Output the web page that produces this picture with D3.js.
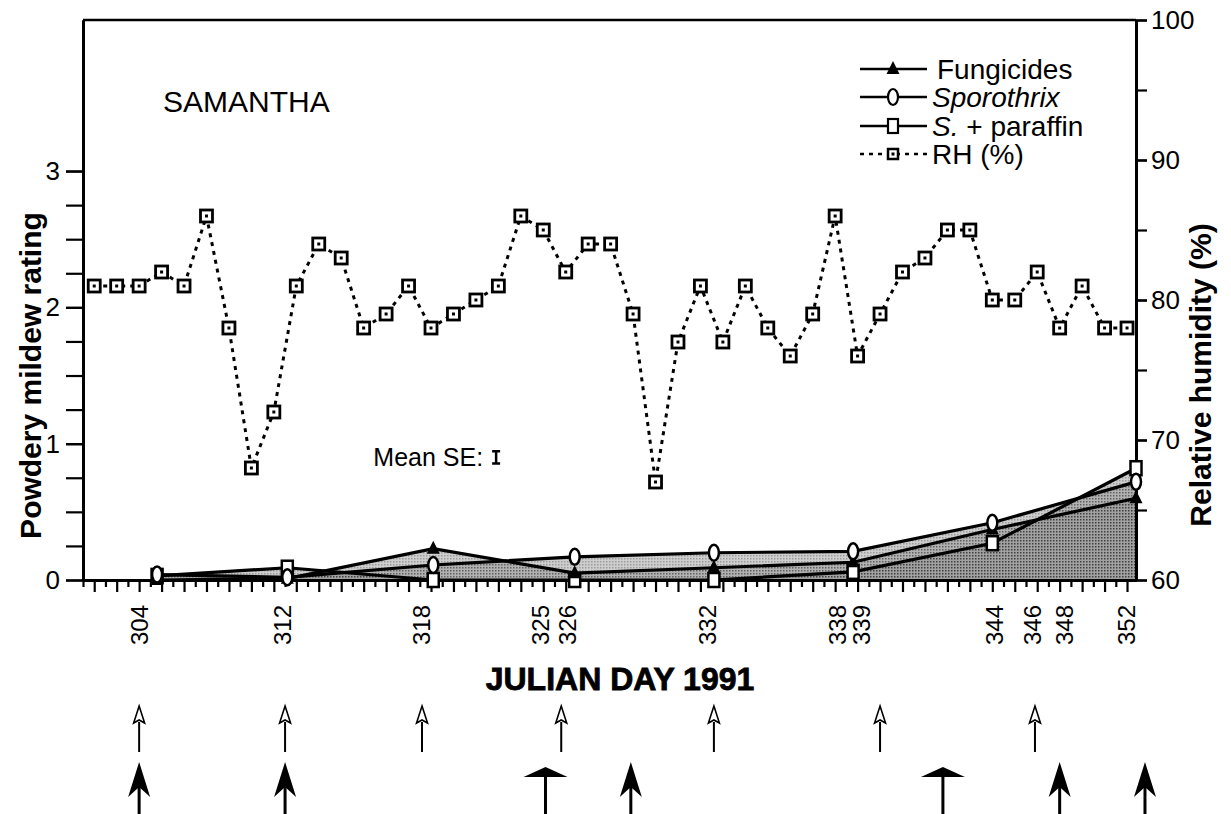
<!DOCTYPE html>
<html>
<head>
<meta charset="utf-8">
<script src="https://cdn.jsdelivr.net/npm/d3@7"></script>
<style>
  body { margin: 0; background: #fff; }
  svg { display: block; font-family: "Liberation Sans", Arial, Helvetica, sans-serif; }
</style>
</head>
<body>
<svg width="1231" height="814"></svg>
<script>
// DATA
// rating samples, x positions read off the day axis of the picture
const sampleDays = [308.8, 314.6, 321.1, 327.4, 333.6, 339.8, 346.0, 352.4];
const fungicides = [0.0, 0.01, 0.23, 0.05, 0.09, 0.13, 0.37, 0.6];
const sporothrix = [0.04, 0.02, 0.11, 0.17, 0.2, 0.21, 0.42, 0.72];
const paraffin = [0.03, 0.09, 0.0, 0.0, 0.0, 0.06, 0.27, 0.82];

// daily relative humidity
const rhDays = d3.range(306, 353);
const rhValues = [81, 81, 81, 82, 81, 86, 78, 68, 72, 81, 84, 83, 78, 79, 81, 78, 79, 80, 81, 86,
  85, 82, 84, 84, 79, 67, 77, 81, 77, 81, 78, 76, 79, 86, 76, 79, 82, 83, 85, 85,
  80, 80, 82, 78, 81, 78, 78];

// tick labels under the axis and where they sit
const dayLabels = ["304", "312", "318", "325", "326", "332", "338", "339", "344", "346", "348", "352"];
const dayLabelPos = [308.0, 314.4, 320.6, 325.9, 327.1, 333.3, 339.1, 340.2, 346.1, 347.8, 349.2, 352.0];

// application arrows below the chart
const openArrowDays = [308.0, 314.5, 320.6, 326.8, 333.6, 341.0, 347.9];
const solidArrowDays = [308.0, 314.5, 329.9, 349.0, 352.8];
const flatArrowDays = [326.1, 343.8];

const meanSE = 0.09;

// CONSTANTS
const svg = d3.select("svg");
const margin = { top: 20, left: 83, right: 95, bottom: 234 };
const width = +svg.attr("width");
const height = +svg.attr("height");
const plotBottom = height - margin.bottom;
const plotRight = width - margin.right;
const font = 26;

// SCALES
const x = d3.scaleLinear().domain([305.5, 352.4]).range([margin.left, plotRight]);
const yL = d3.scaleLinear().domain([0, 4.108]).range([plotBottom, margin.top]);
const yR = d3.scaleLinear().domain([60, 100]).range([plotBottom, margin.top]);

const series = [
  { name: "paraffin", values: paraffin },
  { name: "fungicides", values: fungicides },
  { name: "sporothrix", values: sporothrix }
];

const g = svg.append("g");

// stippled look: fine dot pattern, layered areas get darker
const pattern = svg.append("defs")
  .append("pattern")
  .attr("id", "stipple")
  .attr("width", 3).attr("height", 3)
  .attr("patternUnits", "userSpaceOnUse");
pattern.append("rect").attr("width", 3).attr("height", 3).attr("fill", "#8a8a8a");
pattern.append("rect").attr("width", 1.5).attr("height", 1.5).attr("fill", "#111");

const area = d3.area()
  .x((d, i) => x(sampleDays[i]))
  .y0(yL(0))
  .y1(d => yL(d));

g.selectAll(".area")
  .data(series)
  .enter()
  .append("path")
  .attr("class", "area")
  .attr("d", d => area(d.values))
  .attr("fill", "url(#stipple)")
  .attr("fill-opacity", 0.42);

const line = d3.line()
  .x((d, i) => x(sampleDays[i]))
  .y(d => yL(d));

g.selectAll(".rating")
  .data(series)
  .enter()
  .append("path")
  .attr("class", "rating")
  .attr("d", d => line(d.values))
  .attr("fill", "none")
  .attr("stroke", "#000")
  .attr("stroke-width", 3.2);

// AXES
function styleAxis(sel, w) {
  sel.select(".domain").attr("stroke-width", w);
  sel.selectAll(".tick line").attr("stroke-width", 2.2);
  sel.selectAll(".tick text")
    .attr("font-size", font)
    .attr("font-family", "Liberation Sans, Arial, sans-serif")
    .attr("fill", "#000");
}

g.append("g")
  .attr("transform", `translate(0,${plotBottom})`)
  .call(d3.axisBottom(x).tickValues(d3.range(305.5, 352.5, 1)).tickSize(7).tickSizeOuter(0).tickFormat(""))
  .call(s => styleAxis(s, 3));
g.append("g")
  .attr("transform", `translate(0,${plotBottom})`)
  .call(d3.axisBottom(x).tickValues(d3.range(306, 353, 1)).tickSize(12).tickSizeOuter(0).tickFormat(""))
  .call(s => styleAxis(s, 3));

g.append("g")
  .attr("transform", `translate(${margin.left},0)`)
  .call(d3.axisLeft(yL).tickValues(d3.range(0, 3.01, 0.25)).tickSize(17).tickSizeOuter(0).tickFormat(""))
  .call(s => styleAxis(s, 3));
g.append("g")
  .attr("transform", `translate(${margin.left},0)`)
  .call(d3.axisLeft(yL).tickValues([0, 1, 2, 3]).tickSize(17).tickPadding(6).tickSizeOuter(0).tickFormat(d3.format("d")))
  .call(s => styleAxis(s, 3));

g.append("g")
  .attr("transform", `translate(${plotRight},0)`)
  .call(d3.axisRight(yR).tickValues(d3.range(60, 101, 5)).tickSize(11).tickSizeOuter(0).tickFormat(""))
  .call(s => styleAxis(s, 3));
g.append("g")
  .attr("transform", `translate(${plotRight},0)`)
  .call(d3.axisRight(yR).tickValues(d3.range(60, 101, 10)).tickSize(11).tickPadding(4).tickSizeOuter(0))
  .call(s => styleAxis(s, 3));

// top frame line
g.append("line")
  .attr("x1", margin.left).attr("x2", plotRight)
  .attr("y1", margin.top).attr("y2", margin.top)
  .attr("stroke", "#000").attr("stroke-width", 2.5);

// rotated day labels
g.selectAll(".daylabel")
  .data(dayLabels)
  .enter()
  .append("text")
  .attr("class", "daylabel")
  .attr("transform", (d, i) => `translate(${x(dayLabelPos[i])},${plotBottom + 25}) rotate(-90)`)
  .attr("text-anchor", "end")
  .attr("dy", "0.35em")
  .attr("font-size", 24)
  .text(d => d);

// RH dotted line + markers
const rhLine = d3.line()
  .x((d, i) => x(rhDays[i]))
  .y(d => yR(d));

g.append("path")
  .attr("d", rhLine(rhValues))
  .attr("fill", "none")
  .attr("stroke", "#000")
  .attr("stroke-width", 3)
  .attr("stroke-dasharray", "4,5");

const rhPts = g.selectAll(".rh")
  .data(rhValues)
  .enter()
  .append("g")
  .attr("class", "rh")
  .attr("transform", (d, i) => `translate(${x(rhDays[i])},${yR(d)})`);
rhPts.append("rect")
  .attr("x", -6).attr("y", -6).attr("width", 12).attr("height", 12)
  .attr("fill", "#fff").attr("stroke", "#000").attr("stroke-width", 2.8);
rhPts.append("rect")
  .attr("x", -1.5).attr("y", -1.5).attr("width", 3).attr("height", 3)
  .attr("fill", "#000");

// markers for the ratings
const triangle = "M0,-8 L6.5,5 L-6.5,5 Z";

g.selectAll(".sq")
  .data(paraffin)
  .enter()
  .append("rect")
  .attr("class", "sq")
  .attr("x", (d, i) => x(sampleDays[i]) - 5.5)
  .attr("y", d => yL(d) - 7)
  .attr("width", 11).attr("height", 14)
  .attr("fill", "#fff").attr("stroke", "#000").attr("stroke-width", 2.5);

g.selectAll(".tri")
  .data(fungicides)
  .enter()
  .append("path")
  .attr("class", "tri")
  .attr("d", triangle)
  .attr("transform", (d, i) => `translate(${x(sampleDays[i])},${yL(d)})`)
  .attr("fill", "#000");

g.selectAll(".circ")
  .data(sporothrix)
  .enter()
  .append("ellipse")
  .attr("class", "circ")
  .attr("cx", (d, i) => x(sampleDays[i]))
  .attr("cy", d => yL(d))
  .attr("rx", 5).attr("ry", 8)
  .attr("fill", "#fff").attr("stroke", "#000").attr("stroke-width", 2.5);

// TEXT
g.append("text")
  .attr("x", 163).attr("y", 112)
  .attr("font-size", 30)
  .text("SAMANTHA");

g.append("text")
  .attr("transform", `translate(30,${(yL(0) + yL(3)) / 2}) rotate(-90)`)
  .attr("text-anchor", "middle")
  .attr("dy", "0.35em")
  .attr("font-size", 30)
  .attr("font-weight", "bold")
  .text("Powdery mildew rating");

g.append("text")
  .attr("transform", `translate(1200,${(yR(60) + yR(100)) / 2 + 75}) rotate(-90)`)
  .attr("text-anchor", "middle")
  .attr("dy", "0.35em")
  .attr("font-size", 30)
  .attr("font-weight", "bold")
  .text("Relative humidity (%)");

g.append("text")
  .attr("x", 620).attr("y", 690)
  .attr("text-anchor", "middle")
  .attr("font-size", 32)
  .attr("font-weight", "bold")
  .attr("stroke", "#000")
  .attr("stroke-width", 0.8)
  .text("JULIAN DAY 1991");

// mean SE annotation
const seX = x(323.9);
const seY = yL(0.9);
g.append("text")
  .attr("x", seX - 13).attr("y", seY)
  .attr("dy", "0.35em")
  .attr("text-anchor", "end")
  .attr("font-size", 25)
  .text("Mean SE:");
g.append("path")
  .attr("d", `M${seX - 4},${yL(0.9 + meanSE / 2)}H${seX + 4}M${seX},${yL(0.9 + meanSE / 2)}V${yL(0.9 - meanSE / 2)}M${seX - 4},${yL(0.9 - meanSE / 2)}H${seX + 4}`)
  .attr("stroke", "#000").attr("stroke-width", 2.5).attr("fill", "none");

// LEGEND
const legend = [
  { label: "Fungicides", kind: "tri", y: 69 },
  { label: "Sporothrix", kind: "circ", y: 97 },
  { label: "S.", rest: " + paraffin", kind: "sq", y: 126 },
  { label: "RH (%)", kind: "rh", y: 154 }
];
const lg = g.selectAll(".legend")
  .data(legend)
  .enter()
  .append("g")
  .attr("class", "legend")
  .attr("transform", d => `translate(860,${d.y})`);

lg.append("line")
  .attr("x1", 0).attr("x2", 67)
  .attr("stroke", "#000")
  .attr("stroke-width", 2.5)
  .attr("stroke-dasharray", d => d.kind === "rh" ? "4,5" : null);

lg.filter(d => d.kind === "tri").append("path")
  .attr("d", triangle).attr("transform", "translate(33,0)").attr("fill", "#000");
lg.filter(d => d.kind === "circ").append("ellipse")
  .attr("cx", 33).attr("rx", 5).attr("ry", 8)
  .attr("fill", "#fff").attr("stroke", "#000").attr("stroke-width", 2.2);
lg.filter(d => d.kind === "sq").append("rect")
  .attr("x", 28).attr("y", -7).attr("width", 10).attr("height", 14)
  .attr("fill", "#fff").attr("stroke", "#000").attr("stroke-width", 2.2);
const lrh = lg.filter(d => d.kind === "rh");
lrh.append("rect")
  .attr("x", 28).attr("y", -5).attr("width", 10).attr("height", 10)
  .attr("fill", "#fff").attr("stroke", "#000").attr("stroke-width", 2.5);
lrh.append("rect")
  .attr("x", 31.5).attr("y", -1.5).attr("width", 3).attr("height", 3).attr("fill", "#000");

const lt = lg.append("text")
  .attr("x", d => d.kind === "tri" ? 77 : 72)
  .attr("dy", "0.34em")
  .attr("font-size", 28);
lt.append("tspan")
  .attr("font-style", d => (d.kind === "circ" || d.kind === "sq") ? "italic" : null)
  .text(d => d.label);
lt.append("tspan").text(d => d.rest || "");

// ARROWS
const arrows = svg.append("g");

const openArrow = arrows.selectAll(".open")
  .data(openArrowDays)
  .enter()
  .append("g")
  .attr("transform", d => `translate(${x(d)},706)`);
openArrow.append("line")
  .attr("y1", 16).attr("y2", 46)
  .attr("stroke", "#000").attr("stroke-width", 2);
openArrow.append("path")
  .attr("d", "M0,0 L5.5,17 L0,14 L-5.5,17 Z")
  .attr("fill", "#fff").attr("stroke", "#000").attr("stroke-width", 1.6);

const solidArrow = arrows.selectAll(".solid")
  .data(solidArrowDays)
  .enter()
  .append("g")
  .attr("transform", d => `translate(${x(d)},762)`);
solidArrow.append("line")
  .attr("y1", 20).attr("y2", 60)
  .attr("stroke", "#000").attr("stroke-width", 3);
solidArrow.append("path")
  .attr("d", "M0,0 L11,35 L0,25 L-11,35 Z")
  .attr("fill", "#000");

const flatArrow = arrows.selectAll(".flat")
  .data(flatArrowDays)
  .enter()
  .append("g")
  .attr("transform", d => `translate(${x(d)},767)`);
flatArrow.append("line")
  .attr("y1", 8).attr("y2", 55)
  .attr("stroke", "#000").attr("stroke-width", 3);
flatArrow.append("path")
  .attr("d", "M0,0 L22,10 L-22,10 Z")
  .attr("fill", "#000");
</script>
</body>
</html>
